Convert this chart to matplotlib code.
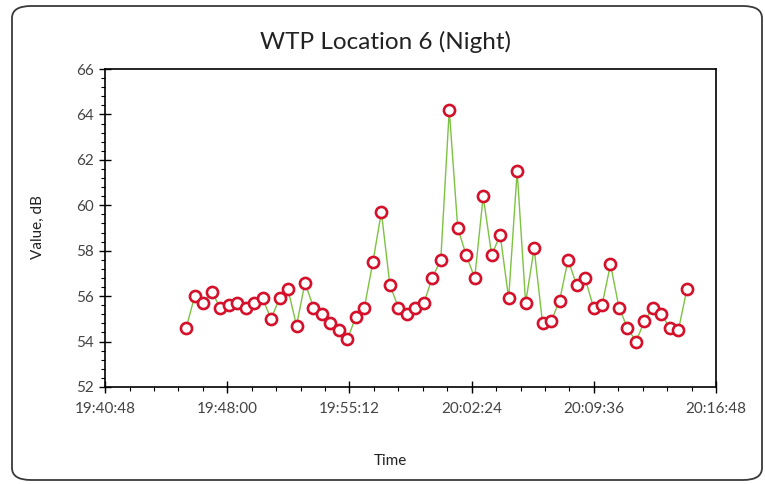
import matplotlib
matplotlib.use("Agg")
import matplotlib.pyplot as plt
import matplotlib.dates as mdates
from matplotlib.ticker import FixedLocator, MultipleLocator
from matplotlib.patches import FancyBboxPatch
from datetime import datetime, timedelta

# ---- data ----
title = "WTP Location 6 (Night)"
x_label = "Time"
y_label = "Value, dB"
start_time = "19:45:35"
interval_seconds = 30
values = [54.6, 56.0, 55.7, 56.2, 55.5, 55.6, 55.7, 55.5, 55.7, 55.9,
          55.0, 55.9, 56.3, 54.7, 56.6, 55.5, 55.2, 54.8, 54.5, 54.1,
          55.1, 55.5, 57.5, 59.7, 56.5, 55.5, 55.2, 55.5, 55.7, 56.8,
          57.6, 64.2, 59.0, 57.8, 56.8, 60.4, 57.8, 58.7, 55.9, 61.5,
          55.7, 58.1, 54.8, 54.9, 55.8, 57.6, 56.5, 56.8, 55.5, 55.6,
          57.4, 55.5, 54.6, 54.0, 54.9, 55.5, 55.2, 54.6, 54.5, 56.3]
x_tick_labels = ["19:40:48", "19:48:00", "19:55:12", "20:02:24", "20:09:36", "20:16:48"]
y_ticks = [52, 54, 56, 58, 60, 62, 64, 66]

base_day = "2020-01-01 "
t0 = datetime.strptime(base_day + start_time, "%Y-%m-%d %H:%M:%S")
times = [t0 + timedelta(seconds=interval_seconds * i) for i in range(len(values))]
tick_times = [datetime.strptime(base_day + s, "%Y-%m-%d %H:%M:%S") for s in x_tick_labels]
tick_nums = [mdates.date2num(t) for t in tick_times]

plt.rcParams['font.family'] = ['Lato', 'DejaVu Sans']

fig = plt.figure(figsize=(7.65, 4.84), dpi=100)
fig.patch.set_facecolor('white')

# rounded border
border = FancyBboxPatch((12 / 765, 4 / 484), 750 / 765, 474 / 484,
                        boxstyle="round,pad=0,rounding_size=0.025",
                        transform=fig.transFigure, facecolor='none',
                        edgecolor='#3a3a3a', linewidth=1.3)
fig.patches.append(border)

ax = fig.add_axes([105 / 765, 1 - 387 / 484, (716 - 105) / 765, (387 - 69) / 484])
ax.plot(times, values, color='#7dc242', linewidth=1.0, zorder=2)
ax.plot(times, values, linestyle='none', marker='o', markersize=8,
        markerfacecolor='white', markeredgecolor='#d4102a', markeredgewidth=1.9, zorder=3)

ax.set_xlim(tick_nums[0], tick_nums[-1])
ax.set_ylim(y_ticks[0], y_ticks[-1])

ax.xaxis.set_major_locator(FixedLocator(tick_nums))
ax.set_xticklabels(x_tick_labels)
step = (tick_nums[1] - tick_nums[0]) / 5
ax.xaxis.set_minor_locator(MultipleLocator(step))
ax.set_yticks(y_ticks)
ax.yaxis.set_minor_locator(MultipleLocator(0.4))

ax.tick_params(axis='both', which='major', direction='inout', length=8, width=1.0,
               labelsize=11, labelcolor='#444444', pad=4)
ax.tick_params(axis='both', which='minor', direction='out', length=3, width=0.8)
ax.tick_params(axis='x', which='major', pad=7)

for s in ax.spines.values():
    s.set_linewidth(1.2)
    s.set_color('black')

fig.text(386 / 765, 1 - 42 / 484, title, fontsize=17.5, color='#222222',
         ha='center', va='center')
fig.text(390 / 765, 1 - 461 / 484, x_label, fontsize=11, color='#222222',
         ha='center', va='center')
fig.text(38 / 765, 1 - 227 / 484, y_label, fontsize=11, color='#222222',
         ha='center', va='center', rotation=90)

fig.savefig("out.png", dpi=100, facecolor='white')
